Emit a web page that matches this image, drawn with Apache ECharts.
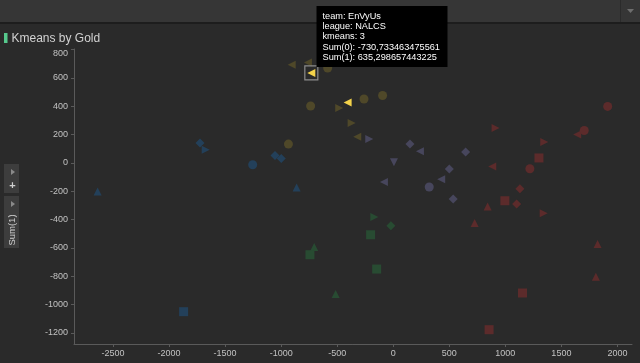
<!DOCTYPE html>
<html>
<head>
<meta charset="utf-8">
<script src="https://cdn.jsdelivr.net/npm/echarts@6/dist/echarts.min.js"></script>
<style>
html,body{margin:0;padding:0;background:#2a2a2a;}
#chart{width:640px;height:363px;}
</style>
</head>
<body>
<div id="chart"></div>
<script>
// ---- axis ticks ----
const xTicks = [-2500, -2000, -1500, -1000, -500, 0, 500, 1000, 1500, 2000];
const yTicks = [-1200, -1000, -800, -600, -400, -200, 0, 200, 400, 600, 800];

// ---- shape codes: c circle, s square, d diamond, u up, l left, r right, v down ----
// cluster blue
const blueX = [-2637, -1724, -1673, -1254, -1055, -999, -862, -1870];
const blueY = [-201, 140, 93, -13, 53, 32, -173, -1050];
const blueShape = ['u', 'd', 'r', 'c', 'd', 'd', 'u', 's'];

// cluster green
const greenX = [-169, -21, -202, -705, -743, -148, -514];
const greenY = [-382, -443, -507, -594, -648, -749, -925];
const greenShape = ['r', 'd', 's', 'u', 's', 's', 'u'];

// cluster red
const redX = [1913, 913, 1641, 1704, 1347, 1300, 883, 1219, 1130, 996, 1101, 842, 1342, 726, 1823, 1808, 1153, 855];
const redY = [399, 246, 201, 229, 147, 35, -25, -41, -182, -267, -290, -307, -356, -424, -572, -803, -918, -1177];
const redShape = ['c', 'r', 'l', 'c', 'r', 's', 'l', 'c', 'd', 's', 'd', 'u', 'r', 'u', 'u', 'u', 's', 's'];

// cluster purple
const purpleX = [-214, 149, 238, 646, 6, 500, -83, 428, 321, 535];
const purpleY = [169, 133, 83, 77, 4, -43, -135, -116, -170, -255];
const purpleShape = ['r', 'd', 'l', 'd', 'v', 'd', 'l', 'l', 'c', 'd'];

// cluster yellow (kmeans 3)
const yellowX = [-906, -761, -730.733463475561, -585, -737, -482, -407, -261, -95, -371, -321, -935];
const yellowY = [693, 709, 635.298657443225, 670, 402, 387, 427, 451, 476, 282, 185, 133];
const yellowShape = ['l', 'l', 'l', 'c', 'c', 'r', 'l', 'c', 'c', 'r', 'l', 'c'];
const yellowHighlighted = [2, 6];

// tooltip content (hovered point = yellow index 2)
const tipTeam = 'EnVyUs';
const tipLeague = 'NALCS';
const tipKmeans = 3;
const tipIndex = 2;

const shapeMap = {
  c: ['circle', 0, 9], s: ['rect', 0, 9], d: ['diamond', 0, 9],
  u: ['triangle', 0, 8], l: ['triangle', 90, 8], r: ['triangle', -90, 8], v: ['triangle', 180, 8]
};

function build(xs, ys, shapes, hiIdx, hiColor) {
  return xs.map(function (x, i) {
    const s = shapeMap[shapes[i]];
    const item = { value: [x, ys[i]], symbol: s[0], symbolRotate: s[1], symbolSize: s[2] };
    if (hiIdx && hiIdx.indexOf(i) >= 0) item.itemStyle = { color: hiColor };
    return item;
  });
}

const chart = echarts.init(document.getElementById('chart'), null, { renderer: 'canvas' });
const font = 'Liberation Sans, Arial, sans-serif';
const axisLabelStyle = { color: '#c2c2c2', fontSize: 9, fontFamily: font };

function series(name, xs, ys, sh, color, hi, hiColor) {
  return {
    name: name, type: 'scatter', data: build(xs, ys, sh, hi, hiColor),
    itemStyle: { color: color, opacity: 1 }, emphasis: { disabled: true }, silent: true
  };
}

chart.setOption({
  backgroundColor: '#2a2a2a',
  animation: false,
  grid: { left: 74, right: 8, top: 49, bottom: 19 },
  xAxis: {
    type: 'value', min: -2848, max: 2130,
    axisLine: { show: true, onZero: false, lineStyle: { color: '#5a5a5a', width: 1 } },
    axisTick: { show: true, length: 3, customValues: xTicks, lineStyle: { color: '#5a5a5a' } },
    axisLabel: Object.assign({ customValues: xTicks, margin: 5, formatter: function (v) { return String(v); } }, axisLabelStyle),
    splitLine: { show: false }
  },
  yAxis: {
    type: 'value', min: -1278, max: 804,
    axisLine: { show: true, onZero: false, lineStyle: { color: '#5a5a5a', width: 1 } },
    axisTick: { show: true, length: 3, customValues: yTicks, lineStyle: { color: '#5a5a5a' } },
    axisLabel: Object.assign({
      customValues: yTicks, margin: 6,
      formatter: function (v) { return v === 800 ? '{t|800}' : String(v); },
      rich: { t: { padding: [8, 0, 0, 0], color: '#c2c2c2', fontSize: 9, fontFamily: font } }
    }, axisLabelStyle),
    splitLine: { show: false }
  },
  series: [
    series('blue', blueX, blueY, blueShape, '#23405a'),
    series('green', greenX, greenY, greenShape, '#284b32'),
    series('red', redX, redY, redShape, '#5c2b2b'),
    series('purple', purpleX, purpleY, purpleShape, '#47465c'),
    series('yellow', yellowX, yellowY, yellowShape, '#4f4829', yellowHighlighted, '#f3d24a')
  ]
});

// ---- decorations (header, title, side controls, tooltip, selection frame) ----
const hp = chart.convertToPixel({ seriesIndex: 4 }, [yellowX[tipIndex], yellowY[tipIndex]]);
const fmt = function (v) { return String(v).replace('.', ','); };
const tipText = [
  'team: ' + tipTeam,
  'league: ' + tipLeague,
  'kmeans: ' + tipKmeans,
  'Sum(0): ' + fmt(yellowX[tipIndex]),
  'Sum(1): ' + fmt(yellowY[tipIndex])
].join('\n');

chart.setOption({
  graphic: [
    { type: 'rect', shape: { x: 0, y: 0, width: 640, height: 22 }, style: { fill: '#363636' }, silent: true },
    { type: 'rect', shape: { x: 620, y: 0, width: 1, height: 22 }, style: { fill: '#2b2b2b' }, silent: true },
    { type: 'polygon', shape: { points: [[627, 9], [634, 9], [630.5, 13]] }, style: { fill: '#6e6e6e' }, silent: true },
    { type: 'rect', shape: { x: 0, y: 22, width: 640, height: 2 }, style: { fill: '#1d1d1d' }, silent: true },
    { type: 'rect', shape: { x: 4, y: 33, width: 3.5, height: 10 }, style: { fill: '#56c98d' }, silent: true },
    { type: 'text', x: 11.5, y: 38.5, style: { text: 'Kmeans by Gold', fill: '#d2d2d2', font: '12px ' + font, verticalAlign: 'middle' }, silent: true },
    { type: 'rect', shape: { x: 4, y: 164, width: 15, height: 29 }, style: { fill: '#3d3d3d' }, silent: true },
    { type: 'rect', shape: { x: 4, y: 196, width: 15, height: 52 }, style: { fill: '#3d3d3d' }, silent: true },
    { type: 'polygon', shape: { points: [[11, 169], [11, 175], [15, 172]] }, style: { fill: '#8a8a8a' }, silent: true },
    { type: 'polygon', shape: { points: [[11, 201], [11, 207], [15, 204]] }, style: { fill: '#8a8a8a' }, silent: true },
    { type: 'text', x: 12.5, y: 186, style: { text: '+', fill: '#cfcfcf', font: 'bold 11px ' + font, align: 'center', verticalAlign: 'middle' }, silent: true },
    { type: 'text', x: 12.5, y: 230, rotation: Math.PI / 2, style: { text: 'Sum(1)', fill: '#cfcfcf', font: '9.5px ' + font, align: 'center', verticalAlign: 'middle' }, silent: true },
    { type: 'rect', shape: { x: hp[0] - 6.5, y: hp[1] - 7, width: 13, height: 14 }, style: { fill: 'none', stroke: '#8c8c8c', lineWidth: 1.2 }, silent: true, z: 10 },
    { type: 'rect', shape: { x: 316.5, y: 6, width: 131, height: 61 }, style: { fill: '#000000' }, silent: true, z: 20 },
    { type: 'text', x: 322.5, y: 11, z: 21, style: { text: tipText, fill: '#ffffff', font: '9.2px ' + font, lineHeight: 10.3, verticalAlign: 'top' }, silent: true }
  ]
});
</script>
</body>
</html>
